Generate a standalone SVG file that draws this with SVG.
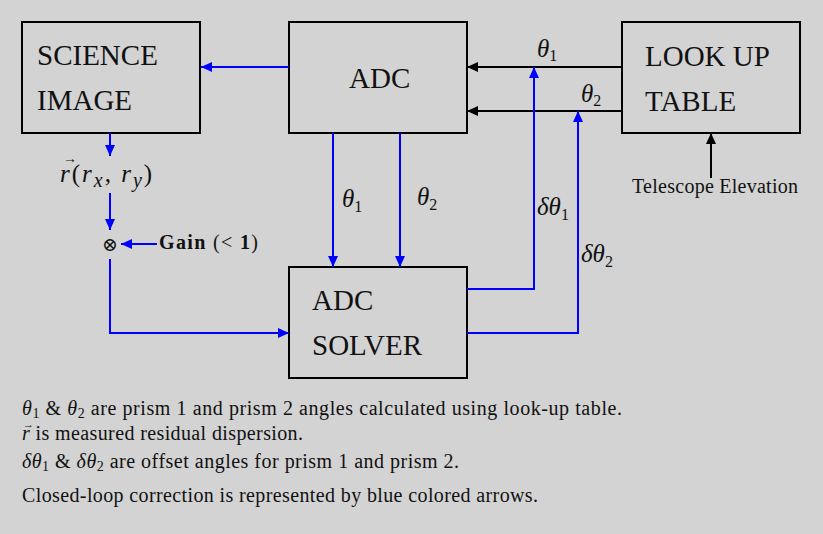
<svg xmlns="http://www.w3.org/2000/svg" width="823" height="534" viewBox="0 0 823 534">
<defs>
<marker id="ab" markerUnits="userSpaceOnUse" markerWidth="12" markerHeight="10" refX="11" refY="5" orient="auto"><path d="M0,0 L11,5 L0,10 z" fill="#0000ff"/></marker>
<marker id="ak" markerUnits="userSpaceOnUse" markerWidth="12" markerHeight="10" refX="11" refY="5" orient="auto"><path d="M0,0 L11,5 L0,10 z" fill="#000"/></marker>
<style>
.box{fill:#d3d3d3;stroke:#000;stroke-width:2}
.bl{fill:none;stroke:#0000ff;stroke-width:2;marker-end:url(#ab)}
.bk{fill:none;stroke:#000;stroke-width:2;marker-end:url(#ak)}
text{fill:#111}
.big{font-size:29px}
.m{font-style:italic;font-size:25px}
.sub{font-style:normal;font-size:16px}
.t{font-size:20px}
</style>
</defs>
<rect width="823" height="534" fill="#d3d3d3"/>
<g font-family="Liberation Serif, DejaVu Serif, serif">
<g id="science-image"><rect class="box" x="22" y="22" width="178" height="111"/><text class="big" x="37" y="65">SCIENCE</text><text class="big" x="37" y="110">IMAGE</text></g>
<g id="adc"><rect class="box" x="289" y="22" width="178" height="111"/><text class="big" x="349" y="88">ADC</text></g>
<g id="lut"><rect class="box" x="622" y="22" width="178" height="111"/><text class="big" x="645" y="66">LOOK UP</text><text class="big" x="645" y="111">TABLE</text></g>
<g id="adc-solver"><rect class="box" x="289" y="267" width="178" height="111"/><text class="big" x="312" y="310">ADC</text><text class="big" x="312" y="355">SOLVER</text></g>
<g id="residual"><text class="m" x="60" y="182" font-size="29" letter-spacing="2">r<tspan font-style="normal">(</tspan>r<tspan font-size="20" dy="5">x</tspan><tspan dy="-5" font-style="normal">, </tspan>r<tspan font-size="20" dy="5">y</tspan><tspan dy="-5" font-style="normal">)</tspan></text><text x="63" y="163" font-size="14">→</text></g>
<g id="multiplier"><text x="110" y="251" text-anchor="middle" font-size="19">⊗</text></g>
<g id="gain"><text class="t" x="159" y="249" textLength="99"><tspan font-weight="bold">Gain</tspan> (&lt; <tspan font-weight="bold">1</tspan>)</text></g>
<g id="telescope"><text class="t" x="632" y="193" textLength="166">Telescope Elevation</text></g>
<g id="connectors">
<line class="bl" x1="289" y1="67" x2="201" y2="67"/>
<line class="bk" x1="622" y1="67" x2="467" y2="67"/>
<line class="bk" x1="622" y1="111" x2="467" y2="111"/>
<line class="bl" x1="110" y1="133" x2="110" y2="156"/>
<line class="bl" x1="110" y1="193" x2="110" y2="230"/>
<line class="bl" x1="157" y1="244" x2="121" y2="244"/>
<polyline class="bl" points="110,259 110,333 289,333"/>
<line class="bl" x1="333" y1="133" x2="333" y2="267"/>
<line class="bl" x1="400" y1="133" x2="400" y2="267"/>
<polyline class="bl" points="467,289 534,289 534,67"/>
<polyline class="bl" points="467,333 578,333 578,111"/>
<line class="bk" x1="711" y1="178" x2="711" y2="133"/>
<text class="m" x="537" y="57" font-size="23">θ<tspan class="sub" dy="4">1</tspan></text>
<text class="m" x="581" y="102" font-size="23">θ<tspan class="sub" dy="4">2</tspan></text>
<text class="m" x="342" y="207">θ<tspan class="sub" dy="5">1</tspan></text>
<text class="m" x="417" y="205">θ<tspan class="sub" dy="5">2</tspan></text>
<text class="m" x="537" y="215">δθ<tspan class="sub" dy="5">1</tspan></text>
<text class="m" x="581" y="262">δθ<tspan class="sub" dy="5">2</tspan></text>
</g>
<g id="notes">
<text class="t" x="22" y="415" textLength="600"><tspan font-style="italic">θ</tspan><tspan font-size="14" dy="3">1</tspan><tspan dy="-3"> &amp; </tspan><tspan font-style="italic">θ</tspan><tspan font-size="14" dy="3">2</tspan><tspan dy="-3"> are prism 1 and prism 2 angles calculated using look-up table.</tspan></text>
<text class="t" x="22" y="440" textLength="281"><tspan font-style="italic">r</tspan> is measured residual dispersion.</text>
<text x="23" y="428" font-size="11">→</text>
<text class="t" x="22" y="468" textLength="437"><tspan font-style="italic">δθ</tspan><tspan font-size="14" dy="3">1</tspan><tspan dy="-3"> &amp; </tspan><tspan font-style="italic">δθ</tspan><tspan font-size="14" dy="3">2</tspan><tspan dy="-3"> are offset angles for prism 1 and prism 2.</tspan></text>
<text class="t" x="22" y="502" textLength="516">Closed-loop correction is represented by blue colored arrows.</text>
</g>
</g>
</svg>
